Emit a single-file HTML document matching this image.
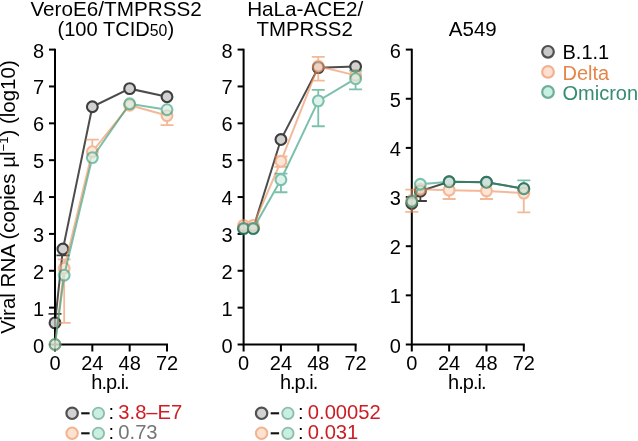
<!DOCTYPE html>
<html><head><meta charset="utf-8"><style>
html,body{margin:0;padding:0;background:#fff;}
body{width:638px;height:441px;overflow:hidden;position:relative;font-family:"Liberation Sans", sans-serif;}
svg text{font-family:"Liberation Sans", sans-serif;}
svg{will-change:transform;filter:blur(0.35px);}
</style></head><body>
<svg width="638" height="441" viewBox="0 0 638 441" style="position:absolute;left:0;top:0"><rect width="638" height="441" fill="#fff"/><path d="M55.00 48.70V344.50H168.00" fill="none" stroke="#000" stroke-width="2" stroke-linejoin="miter"/><path d="M49.00 344.50H55.0" stroke="#000" stroke-width="2"/><path d="M49.00 307.64H55.0" stroke="#000" stroke-width="2"/><path d="M49.00 270.77H55.0" stroke="#000" stroke-width="2"/><path d="M49.00 233.91H55.0" stroke="#000" stroke-width="2"/><path d="M49.00 197.05H55.0" stroke="#000" stroke-width="2"/><path d="M49.00 160.19H55.0" stroke="#000" stroke-width="2"/><path d="M49.00 123.33H55.0" stroke="#000" stroke-width="2"/><path d="M49.00 86.46H55.0" stroke="#000" stroke-width="2"/><path d="M49.00 49.60H55.0" stroke="#000" stroke-width="2"/><path d="M55.00 344.5V351.50" stroke="#000" stroke-width="2"/><path d="M92.33 344.5V351.50" stroke="#000" stroke-width="2"/><path d="M129.67 344.5V351.50" stroke="#000" stroke-width="2"/><path d="M167.00 344.5V351.50" stroke="#000" stroke-width="2"/><text x="44.00" y="352.50" text-anchor="end" font-size="20">0</text><text x="44.00" y="315.64" text-anchor="end" font-size="20">1</text><text x="44.00" y="278.77" text-anchor="end" font-size="20">2</text><text x="44.00" y="241.91" text-anchor="end" font-size="20">3</text><text x="44.00" y="205.05" text-anchor="end" font-size="20">4</text><text x="44.00" y="168.19" text-anchor="end" font-size="20">5</text><text x="44.00" y="131.33" text-anchor="end" font-size="20">6</text><text x="44.00" y="94.46" text-anchor="end" font-size="20">7</text><text x="44.00" y="57.60" text-anchor="end" font-size="20">8</text><text x="55.00" y="369.90" text-anchor="middle" font-size="20">0</text><text x="92.33" y="369.90" text-anchor="middle" font-size="20">24</text><text x="129.67" y="369.90" text-anchor="middle" font-size="20">48</text><text x="167.00" y="369.90" text-anchor="middle" font-size="20">72</text><text x="110.00" y="388.80" text-anchor="middle" font-size="20" letter-spacing="-1">h.p.i.</text><path d="M243.60 48.70V344.50H356.60" fill="none" stroke="#000" stroke-width="2" stroke-linejoin="miter"/><path d="M237.60 344.50H243.6" stroke="#000" stroke-width="2"/><path d="M237.60 307.64H243.6" stroke="#000" stroke-width="2"/><path d="M237.60 270.77H243.6" stroke="#000" stroke-width="2"/><path d="M237.60 233.91H243.6" stroke="#000" stroke-width="2"/><path d="M237.60 197.05H243.6" stroke="#000" stroke-width="2"/><path d="M237.60 160.19H243.6" stroke="#000" stroke-width="2"/><path d="M237.60 123.33H243.6" stroke="#000" stroke-width="2"/><path d="M237.60 86.46H243.6" stroke="#000" stroke-width="2"/><path d="M237.60 49.60H243.6" stroke="#000" stroke-width="2"/><path d="M243.60 344.5V351.50" stroke="#000" stroke-width="2"/><path d="M280.93 344.5V351.50" stroke="#000" stroke-width="2"/><path d="M318.27 344.5V351.50" stroke="#000" stroke-width="2"/><path d="M355.60 344.5V351.50" stroke="#000" stroke-width="2"/><text x="232.60" y="352.50" text-anchor="end" font-size="20">0</text><text x="232.60" y="315.64" text-anchor="end" font-size="20">1</text><text x="232.60" y="278.77" text-anchor="end" font-size="20">2</text><text x="232.60" y="241.91" text-anchor="end" font-size="20">3</text><text x="232.60" y="205.05" text-anchor="end" font-size="20">4</text><text x="232.60" y="168.19" text-anchor="end" font-size="20">5</text><text x="232.60" y="131.33" text-anchor="end" font-size="20">6</text><text x="232.60" y="94.46" text-anchor="end" font-size="20">7</text><text x="232.60" y="57.60" text-anchor="end" font-size="20">8</text><text x="243.60" y="369.90" text-anchor="middle" font-size="20">0</text><text x="280.93" y="369.90" text-anchor="middle" font-size="20">24</text><text x="318.27" y="369.90" text-anchor="middle" font-size="20">48</text><text x="355.60" y="369.90" text-anchor="middle" font-size="20">72</text><text x="298.60" y="388.80" text-anchor="middle" font-size="20" letter-spacing="-1">h.p.i.</text><path d="M411.80 48.70V344.50H524.80" fill="none" stroke="#000" stroke-width="2" stroke-linejoin="miter"/><path d="M405.80 344.50H411.8" stroke="#000" stroke-width="2"/><path d="M405.80 295.35H411.8" stroke="#000" stroke-width="2"/><path d="M405.80 246.20H411.8" stroke="#000" stroke-width="2"/><path d="M405.80 197.05H411.8" stroke="#000" stroke-width="2"/><path d="M405.80 147.90H411.8" stroke="#000" stroke-width="2"/><path d="M405.80 98.75H411.8" stroke="#000" stroke-width="2"/><path d="M405.80 49.60H411.8" stroke="#000" stroke-width="2"/><path d="M411.80 344.5V351.50" stroke="#000" stroke-width="2"/><path d="M449.13 344.5V351.50" stroke="#000" stroke-width="2"/><path d="M486.47 344.5V351.50" stroke="#000" stroke-width="2"/><path d="M523.80 344.5V351.50" stroke="#000" stroke-width="2"/><text x="400.80" y="352.50" text-anchor="end" font-size="20">0</text><text x="400.80" y="303.35" text-anchor="end" font-size="20">1</text><text x="400.80" y="254.20" text-anchor="end" font-size="20">2</text><text x="400.80" y="205.05" text-anchor="end" font-size="20">3</text><text x="400.80" y="155.90" text-anchor="end" font-size="20">4</text><text x="400.80" y="106.75" text-anchor="end" font-size="20">5</text><text x="400.80" y="57.60" text-anchor="end" font-size="20">6</text><text x="411.80" y="369.90" text-anchor="middle" font-size="20">0</text><text x="449.13" y="369.90" text-anchor="middle" font-size="20">24</text><text x="486.47" y="369.90" text-anchor="middle" font-size="20">48</text><text x="523.80" y="369.90" text-anchor="middle" font-size="20">72</text><text x="466.80" y="388.80" text-anchor="middle" font-size="20" letter-spacing="-1">h.p.i.</text><g opacity="0.78"><path d="M55.00 322.90 L62.93 249.03 L92.33 106.74 L129.67 88.67 L167.00 96.78" fill="none" stroke="#1a1a1a" stroke-width="2.0"/><path d="M55.00 322.90V313.79M48.50 313.79H61.50" stroke="#080808" stroke-width="1.8" fill="none"/><path d="M62.93 249.03V255.29M56.43 255.29H69.43" stroke="#080808" stroke-width="1.8" fill="none"/><circle cx="55.00" cy="322.90" r="5.4" fill="#c5c5c5" stroke="#080808" stroke-width="2.1"/><circle cx="62.93" cy="249.03" r="5.4" fill="#c5c5c5" stroke="#080808" stroke-width="2.1"/><circle cx="92.33" cy="106.74" r="5.4" fill="#c5c5c5" stroke="#080808" stroke-width="2.1"/><circle cx="129.67" cy="88.67" r="5.4" fill="#c5c5c5" stroke="#080808" stroke-width="2.1"/><circle cx="167.00" cy="96.78" r="5.4" fill="#c5c5c5" stroke="#080808" stroke-width="2.1"/></g><g opacity="0.62"><path d="M55.00 344.50 L64.18 268.19 L92.33 151.71 L129.67 105.26 L167.00 115.58" fill="none" stroke="#ec8e58" stroke-width="2.0"/><path d="M64.18 268.19V259.35M57.68 259.35H70.68" stroke="#ec8e58" stroke-width="1.8" fill="none"/><path d="M64.18 268.19V322.90M57.68 322.90H70.68" stroke="#ec8e58" stroke-width="1.8" fill="none"/><path d="M92.33 151.71V139.54M85.83 139.54H98.83" stroke="#ec8e58" stroke-width="1.8" fill="none"/><path d="M167.00 115.58V125.17M160.50 125.17H173.50" stroke="#ec8e58" stroke-width="1.8" fill="none"/><circle cx="55.00" cy="344.50" r="5.4" fill="#fcd7c0" stroke="#ec8e58" stroke-width="2.1"/><circle cx="64.18" cy="268.19" r="5.4" fill="#fcd7c0" stroke="#ec8e58" stroke-width="2.1"/><circle cx="92.33" cy="151.71" r="5.4" fill="#fcd7c0" stroke="#ec8e58" stroke-width="2.1"/><circle cx="129.67" cy="105.26" r="5.4" fill="#fcd7c0" stroke="#ec8e58" stroke-width="2.1"/><circle cx="167.00" cy="115.58" r="5.4" fill="#fcd7c0" stroke="#ec8e58" stroke-width="2.1"/></g><g opacity="0.62"><path d="M55.00 344.50 L64.18 275.20 L92.33 157.61 L129.67 103.79 L167.00 109.69" fill="none" stroke="#2d9b7a" stroke-width="2.0"/><circle cx="55.00" cy="344.50" r="5.4" fill="#cdece1" stroke="#2d9b7a" stroke-width="2.1"/><circle cx="64.18" cy="275.20" r="5.4" fill="#cdece1" stroke="#2d9b7a" stroke-width="2.1"/><circle cx="92.33" cy="157.61" r="5.4" fill="#cdece1" stroke="#2d9b7a" stroke-width="2.1"/><circle cx="129.67" cy="103.79" r="5.4" fill="#cdece1" stroke="#2d9b7a" stroke-width="2.1"/><circle cx="167.00" cy="109.69" r="5.4" fill="#cdece1" stroke="#2d9b7a" stroke-width="2.1"/></g><g opacity="0.78"><path d="M243.60 228.38 L253.24 228.38 L280.93 139.54 L318.27 67.66 L355.60 66.56" fill="none" stroke="#1a1a1a" stroke-width="2.0"/><circle cx="243.60" cy="228.38" r="5.4" fill="#c5c5c5" stroke="#080808" stroke-width="2.1"/><circle cx="253.24" cy="228.38" r="5.4" fill="#c5c5c5" stroke="#080808" stroke-width="2.1"/><circle cx="280.93" cy="139.54" r="5.4" fill="#c5c5c5" stroke="#080808" stroke-width="2.1"/><circle cx="318.27" cy="67.66" r="5.4" fill="#c5c5c5" stroke="#080808" stroke-width="2.1"/><circle cx="355.60" cy="66.56" r="5.4" fill="#c5c5c5" stroke="#080808" stroke-width="2.1"/></g><g opacity="0.62"><path d="M243.60 225.43 L253.24 225.43 L280.93 161.29 L318.27 66.19 L355.60 75.40" fill="none" stroke="#ec8e58" stroke-width="2.0"/><path d="M280.93 161.29V156.50M274.43 156.50H287.43" stroke="#ec8e58" stroke-width="1.8" fill="none"/><path d="M280.93 161.29V166.82M274.43 166.82H287.43" stroke="#ec8e58" stroke-width="1.8" fill="none"/><path d="M318.27 66.19V56.97M311.77 56.97H324.77" stroke="#ec8e58" stroke-width="1.8" fill="none"/><path d="M318.27 66.19V80.56M311.77 80.56H324.77" stroke="#ec8e58" stroke-width="1.8" fill="none"/><circle cx="243.60" cy="225.43" r="5.4" fill="#fcd7c0" stroke="#ec8e58" stroke-width="2.1"/><circle cx="253.24" cy="225.43" r="5.4" fill="#fcd7c0" stroke="#ec8e58" stroke-width="2.1"/><circle cx="280.93" cy="161.29" r="5.4" fill="#fcd7c0" stroke="#ec8e58" stroke-width="2.1"/><circle cx="318.27" cy="66.19" r="5.4" fill="#fcd7c0" stroke="#ec8e58" stroke-width="2.1"/><circle cx="355.60" cy="75.40" r="5.4" fill="#fcd7c0" stroke="#ec8e58" stroke-width="2.1"/></g><g opacity="0.62"><path d="M243.60 228.75 L253.24 228.75 L280.93 179.72 L318.27 100.84 L355.60 78.72" fill="none" stroke="#2d9b7a" stroke-width="2.0"/><path d="M280.93 179.72V173.64M274.43 173.64H287.43" stroke="#2d9b7a" stroke-width="1.8" fill="none"/><path d="M280.93 179.72V192.26M274.43 192.26H287.43" stroke="#2d9b7a" stroke-width="1.8" fill="none"/><path d="M318.27 100.84V89.78M311.77 89.78H324.77" stroke="#2d9b7a" stroke-width="1.8" fill="none"/><path d="M318.27 100.84V126.27M311.77 126.27H324.77" stroke="#2d9b7a" stroke-width="1.8" fill="none"/><path d="M355.60 78.72V70.61M349.10 70.61H362.10" stroke="#2d9b7a" stroke-width="1.8" fill="none"/><path d="M355.60 78.72V89.41M349.10 89.41H362.10" stroke="#2d9b7a" stroke-width="1.8" fill="none"/><circle cx="243.60" cy="228.75" r="5.4" fill="#cdece1" stroke="#2d9b7a" stroke-width="2.1"/><circle cx="253.24" cy="228.75" r="5.4" fill="#cdece1" stroke="#2d9b7a" stroke-width="2.1"/><circle cx="280.93" cy="179.72" r="5.4" fill="#cdece1" stroke="#2d9b7a" stroke-width="2.1"/><circle cx="318.27" cy="100.84" r="5.4" fill="#cdece1" stroke="#2d9b7a" stroke-width="2.1"/><circle cx="355.60" cy="78.72" r="5.4" fill="#cdece1" stroke="#2d9b7a" stroke-width="2.1"/></g><g opacity="0.78"><path d="M411.80 203.44 L420.36 191.15 L449.13 181.81 L486.47 182.31 L523.80 188.69" fill="none" stroke="#1a1a1a" stroke-width="2.0"/><path d="M420.36 191.15V200.98M413.86 200.98H426.86" stroke="#080808" stroke-width="1.8" fill="none"/><circle cx="411.80" cy="203.44" r="5.4" fill="#c5c5c5" stroke="#080808" stroke-width="2.1"/><circle cx="420.36" cy="191.15" r="5.4" fill="#c5c5c5" stroke="#080808" stroke-width="2.1"/><circle cx="449.13" cy="181.81" r="5.4" fill="#c5c5c5" stroke="#080808" stroke-width="2.1"/><circle cx="486.47" cy="182.31" r="5.4" fill="#c5c5c5" stroke="#080808" stroke-width="2.1"/><circle cx="523.80" cy="188.69" r="5.4" fill="#c5c5c5" stroke="#080808" stroke-width="2.1"/></g><g opacity="0.62"><path d="M411.80 200.49 L420.36 189.19 L449.13 190.17 L486.47 190.91 L523.80 193.12" fill="none" stroke="#ec8e58" stroke-width="2.0"/><path d="M411.80 200.49V189.68M405.30 189.68H418.30" stroke="#ec8e58" stroke-width="1.8" fill="none"/><path d="M411.80 200.49V211.79M405.30 211.79H418.30" stroke="#ec8e58" stroke-width="1.8" fill="none"/><path d="M449.13 190.17V199.02M442.63 199.02H455.63" stroke="#ec8e58" stroke-width="1.8" fill="none"/><path d="M486.47 190.91V199.02M479.97 199.02H492.97" stroke="#ec8e58" stroke-width="1.8" fill="none"/><path d="M523.80 193.12V212.29M517.30 212.29H530.30" stroke="#ec8e58" stroke-width="1.8" fill="none"/><circle cx="411.80" cy="200.49" r="5.4" fill="#fcd7c0" stroke="#ec8e58" stroke-width="2.1"/><circle cx="420.36" cy="189.19" r="5.4" fill="#fcd7c0" stroke="#ec8e58" stroke-width="2.1"/><circle cx="449.13" cy="190.17" r="5.4" fill="#fcd7c0" stroke="#ec8e58" stroke-width="2.1"/><circle cx="486.47" cy="190.91" r="5.4" fill="#fcd7c0" stroke="#ec8e58" stroke-width="2.1"/><circle cx="523.80" cy="193.12" r="5.4" fill="#fcd7c0" stroke="#ec8e58" stroke-width="2.1"/></g><g opacity="0.62"><path d="M411.80 201.47 L420.36 184.27 L449.13 181.81 L486.47 182.31 L523.80 188.69" fill="none" stroke="#2d9b7a" stroke-width="2.0"/><path d="M523.80 188.69V180.34M517.30 180.34H530.30" stroke="#2d9b7a" stroke-width="1.8" fill="none"/><circle cx="411.80" cy="201.47" r="5.4" fill="#cdece1" stroke="#2d9b7a" stroke-width="2.1"/><circle cx="420.36" cy="184.27" r="5.4" fill="#cdece1" stroke="#2d9b7a" stroke-width="2.1"/><circle cx="449.13" cy="181.81" r="5.4" fill="#cdece1" stroke="#2d9b7a" stroke-width="2.1"/><circle cx="486.47" cy="182.31" r="5.4" fill="#cdece1" stroke="#2d9b7a" stroke-width="2.1"/><circle cx="523.80" cy="188.69" r="5.4" fill="#cdece1" stroke="#2d9b7a" stroke-width="2.1"/></g><text text-anchor="middle"><tspan font-size="20.7" x="116.1" y="15.6">VeroE6/TMPRSS2</tspan><tspan font-size="20.1" x="115.8" y="35.8">(100 TCID<tspan font-size="15.8">50</tspan>)</tspan></text><text text-anchor="middle"><tspan font-size="20.7" x="305.2" y="15.6">HaLa-ACE2/</tspan><tspan font-size="20.4" x="304.6" y="35.6">TMPRSS2</tspan></text><text font-size="20.5" text-anchor="middle" x="472.8" y="35.8">A549</text><text font-size="20.5" text-anchor="middle" transform="translate(15.2 197) rotate(-90)">Viral RNA (copies µl<tspan font-size="13" dy="-7">−1</tspan><tspan dy="7">) (log10)</tspan></text><circle cx="548" cy="51.80" r="5.8" fill="#c8c8c8" stroke="#505050" stroke-width="2.2"/><text x="562.5" y="59.40" font-size="20" fill="#000">B.1.1</text><circle cx="548" cy="71.90" r="5.8" fill="#fde0d0" stroke="#f0b290" stroke-width="2.2"/><text x="562.5" y="79.60" font-size="20" fill="#e4864a">Delta</text><circle cx="548" cy="92.00" r="5.8" fill="#c9efe1" stroke="#6fae98" stroke-width="2.2"/><text x="562.5" y="100.10" font-size="20" fill="#368c72">Omicron</text><circle cx="72.10" cy="413.30" r="5.7" fill="#d2d2d4" stroke="#505050" stroke-width="2.2"/><path d="M81.20 413.30H89.60" stroke="#111" stroke-width="2.1"/><circle cx="98.40" cy="413.30" r="5.7" fill="#c9efe1" stroke="#8cbcac" stroke-width="1.8"/><text x="108.50" y="419.30" font-size="20">:</text><text x="118.30" y="419.30" font-size="20.2" fill="#d01c24">3.8–E7</text><circle cx="72.10" cy="433.30" r="5.7" fill="#fde2d2" stroke="#f2b48e" stroke-width="2.0"/><path d="M81.20 433.30H89.60" stroke="#111" stroke-width="2.1"/><circle cx="98.40" cy="433.30" r="5.7" fill="#c9efe1" stroke="#8cbcac" stroke-width="1.8"/><text x="108.50" y="439.30" font-size="20">:</text><text x="118.30" y="439.30" font-size="20.2" fill="#767676">0.73</text><circle cx="261.60" cy="413.30" r="5.7" fill="#d2d2d4" stroke="#505050" stroke-width="2.2"/><path d="M270.70 413.30H279.10" stroke="#111" stroke-width="2.1"/><circle cx="287.90" cy="413.30" r="5.7" fill="#c9efe1" stroke="#8cbcac" stroke-width="1.8"/><text x="298.00" y="419.30" font-size="20">:</text><text x="307.80" y="419.30" font-size="20.2" fill="#cc1c24">0.00052</text><circle cx="261.60" cy="433.30" r="5.7" fill="#fde2d2" stroke="#f2b48e" stroke-width="2.0"/><path d="M270.70 433.30H279.10" stroke="#111" stroke-width="2.1"/><circle cx="287.90" cy="433.30" r="5.7" fill="#c9efe1" stroke="#8cbcac" stroke-width="1.8"/><text x="298.00" y="439.30" font-size="20">:</text><text x="307.80" y="439.30" font-size="20.2" fill="#cc1c24">0.031</text></svg>
</body></html>
